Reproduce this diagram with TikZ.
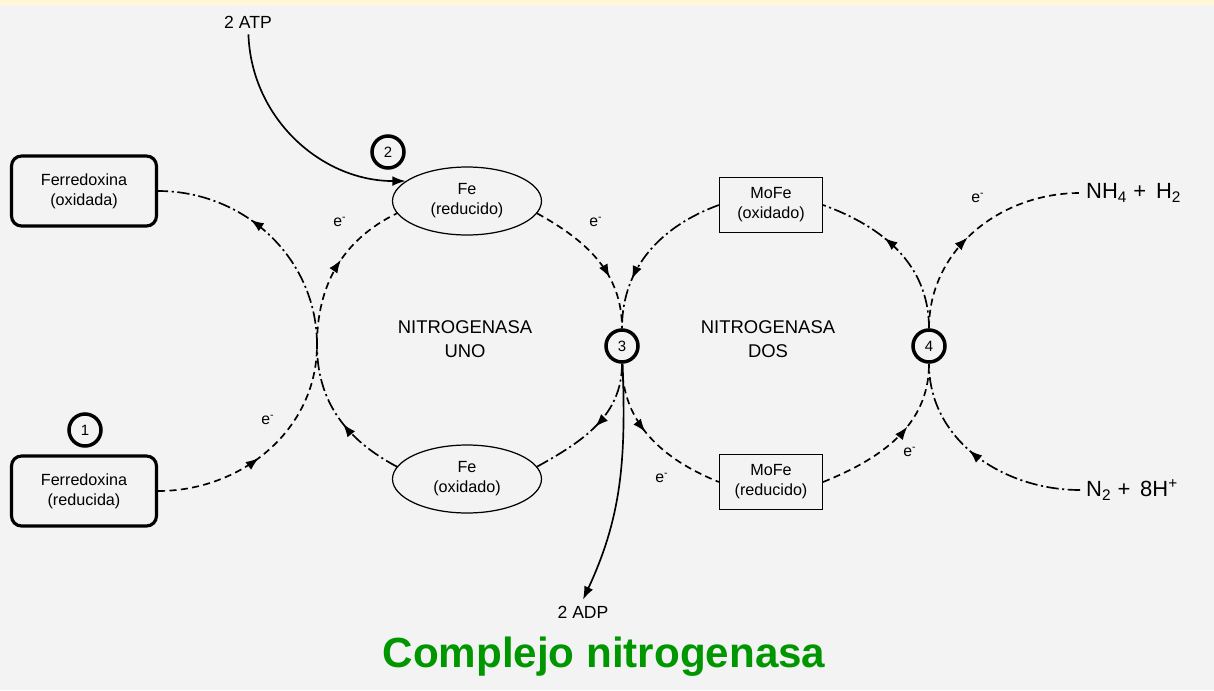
\documentclass[tikz,border=0pt]{standalone}
\usepackage{fontspec}
\setmainfont{Liberation Sans}
\definecolor{nfGreen}{RGB}{0,150,0}
\definecolor{nfBack}{RGB}{243,243,243}
\definecolor{nfTop}{RGB}{255,247,214}
\usetikzlibrary{shapes.geometric, arrows.meta, decorations.markings}

\tikzset{
  fdbox/.style={draw, line width=1.8pt, rounded corners=0.2cm, minimum width=2.9cm, minimum height=1.4cm, align=center, font=\fontsize{9.2}{11.5}\selectfont},
  feoval/.style={ellipse, draw, line width=0.7pt, minimum width=2.98cm, minimum height=1.36cm, inner sep=0pt, align=center, font=\fontsize{9.2}{11.5}\selectfont},
  mofebox/.style={draw, line width=0.7pt, minimum width=2.06cm, minimum height=1.1cm, align=center, font=\fontsize{9.2}{11.5}\selectfont},
  stepcirc/.style={circle, draw, line width=2pt, minimum size=0.64cm, inner sep=0pt, font=\fontsize{8.5}{9}\selectfont},
  elink/.style={line width=0.95pt, dash pattern=on 4pt off 2.5pt},
  olink/.style={line width=0.95pt, dash pattern=on 7pt off 2pt on 1.2pt off 2pt},
  midarrow/.style={postaction={decorate, decoration={markings, mark=at position #1 with {\arrow{Latex[length=7.5pt,width=5.5pt]}}}}},
  midarrow/.default=0.5
}

\begin{document}
\begin{tikzpicture}[x=0.02cm, y=-0.02cm]
  \fill[nfBack] (0,0) rectangle (1214,690);
  \fill[nfTop] (0,0) rectangle (1214,5);

  % carriers
  \node[fdbox] (ferox) at (84,191) {Ferredoxina\\(oxidada)};
  \node[fdbox] (ferrd) at (84,491) {Ferredoxina\\(reducida)};
  \node[feoval] (fered) at (467,201) {Fe\\(reducido)};
  \node[feoval] (feox) at (467,479) {Fe\\(oxidado)};
  \node[mofebox] (mofeox) at (771,205) {MoFe\\(oxidado)};
  \node[mofebox] (moferd) at (771,482) {MoFe\\(reducido)};

  % numbered steps
  \foreach \i/\x/\y in {1/85/430, 2/388/152, 3/622/346, 4/929/346}
    \node[stepcirc] (n\i) at (\x,\y) {\i};

  \node[align=center, font=\fontsize{10.5}{13.5}\selectfont] (uno) at (465,339) {NITROGENASA\\UNO};
  \node[align=center, font=\fontsize{10.5}{13.5}\selectfont] (dos) at (768,339) {NITROGENASA\\DOS};

  \node[font=\fontsize{10}{12}\selectfont] (atp) at (248,22) {2 ATP};
  \node[font=\fontsize{10}{12}\selectfont] (adp) at (583,612) {2 ADP};
  \node[anchor=west, font=\fontsize{12.5}{14}\selectfont] (nh4) at (1080,193) {NH\textsubscript{4} + \,H\textsubscript{2}};
  \node[anchor=west, font=\fontsize{12.5}{14}\selectfont] (n2h) at (1080,490) {N\textsubscript{2} + \,8H\textsuperscript{+}};

  \node[font=\bfseries\fontsize{24}{28}\selectfont, text=nfGreen] (title) at (604,657) {Complejo nitrogenasa};

  % electron labels
  \foreach \j/\x/\y in {1/340/222, 2/596/222, 3/268/420, 4/662/478, 5/910/452, 6/978/198}
    \node[font=\fontsize{9}{10}\selectfont] (e\j) at (\x,\y) {e\textsuperscript{-}};

  \coordinate (lft) at (317,345);

  % ferredoxina side
  \draw[olink, midarrow=0.6] (lft) to[out=90, in=0] (ferox.east);
  \draw[elink, midarrow=0.45] (ferrd.east) to[out=0, in=270] (lft);

  % nitrogenasa uno
  \draw[elink, midarrow=0.55] (lft) to[out=90, in=206] (fered.190);
  \draw[olink, midarrow=0.45] (feox.170) to[out=152, in=270] (lft);
  \draw[elink, midarrow=0.65] (fered.-10) to[out=-29, in=90] (n3);
  \draw[olink, midarrow=0.5] (n3) to[out=-90, in=29] (feox.10);

  % nitrogenasa dos
  \draw[olink, midarrow=0.7] (mofeox.west) to[out=200, in=90] (n3);
  \draw[olink, midarrow=0.6] (n4) to[out=90, in=340] (mofeox.east);
  \draw[elink, midarrow=0.45] (n3) to[out=270, in=158] (moferd.west);
  \draw[elink, midarrow=0.6] (moferd.east) to[out=22, in=270] (n4);

  % products
  \draw[elink, midarrow=0.45] (n4) to[out=90, in=180] (nh4.west);
  \draw[olink, midarrow=0.55] (n2h.west) to[out=180, in=270] (n4);

  % ATP / ADP
  \draw[line width=0.95pt, -{Latex[length=7.5pt,width=5.5pt]}] (atp) to[out=-88, in=180] (fered.162);
  \draw[line width=0.95pt, -{Latex[length=7.5pt,width=5.5pt]}] (n3) to[out=-88, in=65] (adp.north);
\end{tikzpicture}
\end{document}
